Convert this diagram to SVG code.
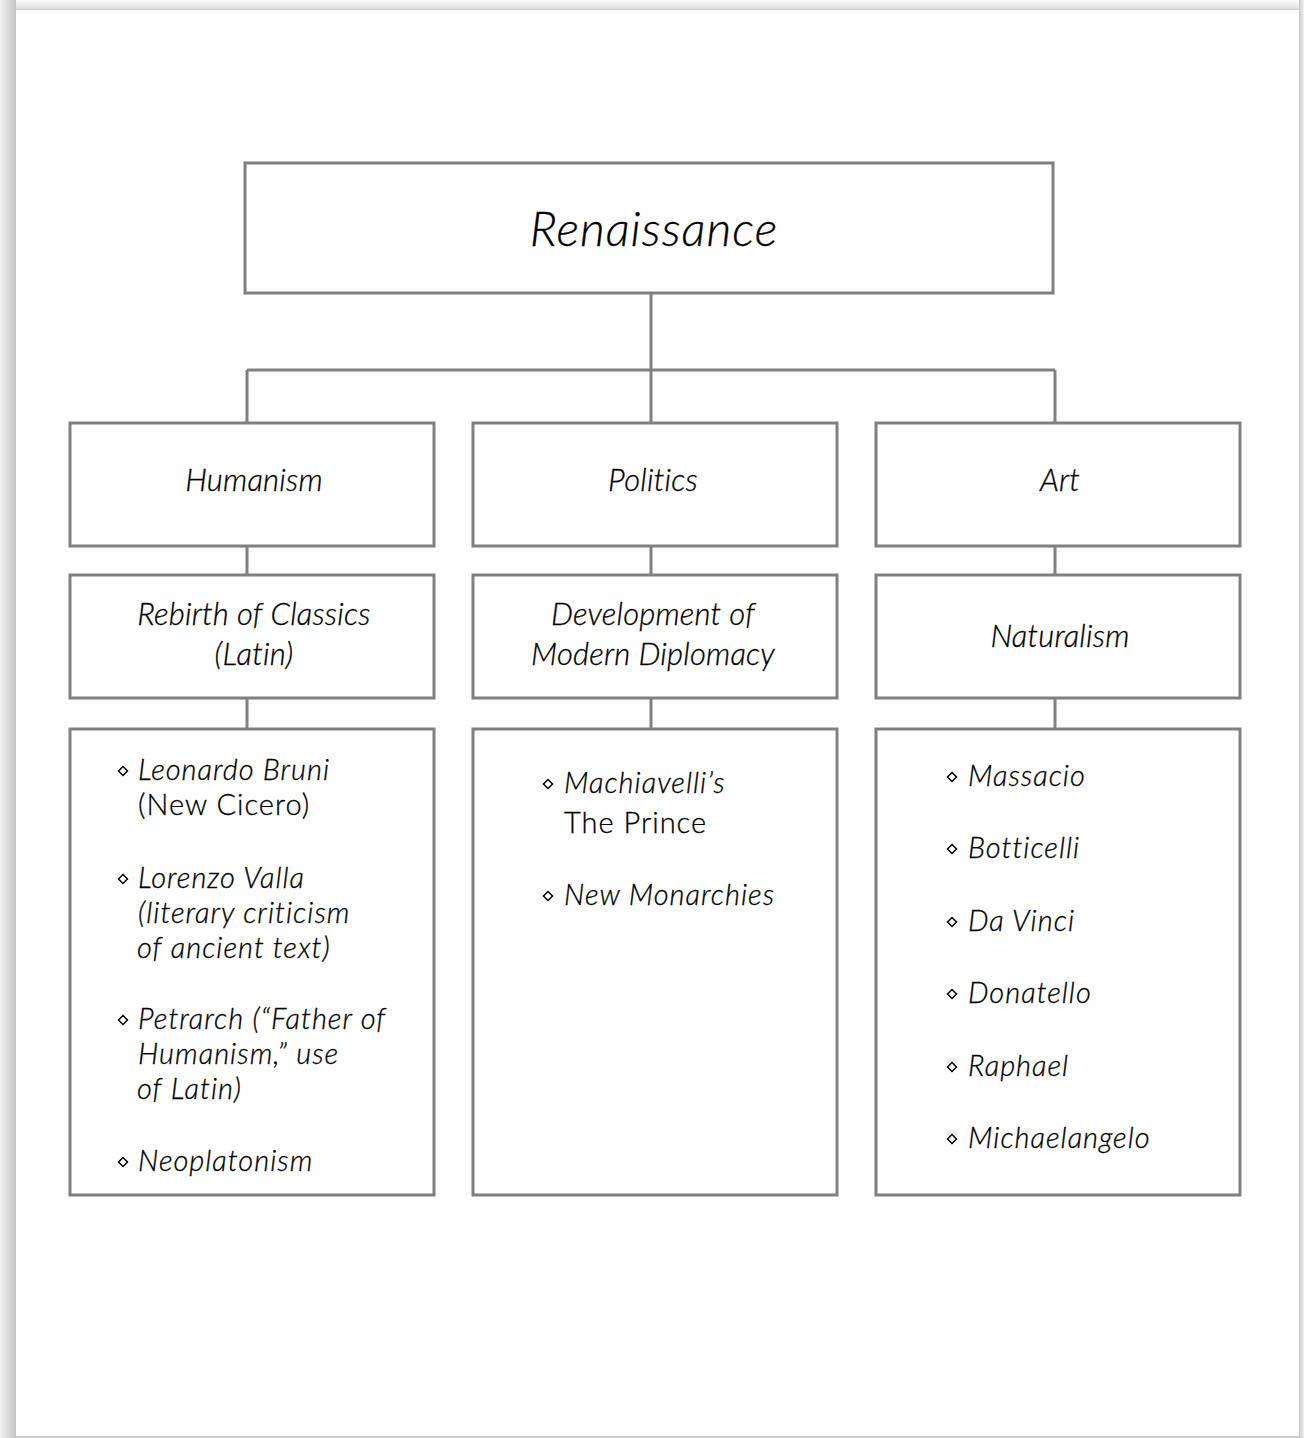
<svg xmlns="http://www.w3.org/2000/svg" width="1304" height="1438" viewBox="0 0 1304 1438">
<defs>
<linearGradient id="gl" x1="0" y1="0" x2="1" y2="0"><stop offset="0" stop-color="#f2f2f2"/><stop offset="0.6" stop-color="#d6d6d6"/><stop offset="1" stop-color="#c6c6c6"/></linearGradient>
<linearGradient id="gt" x1="0" y1="0" x2="0" y2="1"><stop offset="0" stop-color="#fbfbfb"/><stop offset="0.7" stop-color="#e6e6e6"/><stop offset="1" stop-color="#cfcfcf"/></linearGradient>
<linearGradient id="gr" x1="0" y1="0" x2="1" y2="0"><stop offset="0" stop-color="#c8c8c8"/><stop offset="1" stop-color="#f2f2f2"/></linearGradient>
<g id="dia"><path d="M-4.5,0 L0,-4.5 L4.5,0 L0,4.5 Z" fill="none" stroke="#000" stroke-width="1.5"/></g>
</defs>
<style>
.box{fill:#fff;stroke:#808080;stroke-width:3}
.con{stroke:#808080;stroke-width:3;fill:none}
text{font-family:Lato,"Open Sans",sans-serif;font-style:italic;font-weight:300;fill:#000;stroke:#000;stroke-width:0.3px}
.t1{font-size:48px;letter-spacing:1px}
.t2{font-size:31px;letter-spacing:0.2px}
.t3{font-size:29px;letter-spacing:1px}
.up{font-style:normal}
</style>
<rect x="0" y="0" width="1304" height="1438" fill="#fff"/>
<rect x="0" y="0" width="1304" height="10" fill="url(#gt)"/>
<rect x="0" y="0" width="16" height="1438" fill="url(#gl)"/>
<rect x="1299" y="0" width="5" height="1438" fill="url(#gr)"/>
<rect x="16" y="1436" width="1283" height="2" fill="#cccccc"/>

<g id="connectors">
<path class="con" d="M651,293 V422 M247,370 H1055 M247,370 V422 M1055,370 V422"/>
<path class="con" d="M247,546 V574 M651,546 V574 M1055,546 V574"/>
<path class="con" d="M247,698 V729 M651,698 V729 M1055,698 V729"/>
</g>

<g id="renaissance">
<rect class="box" x="245" y="163" width="808" height="130"/>
<text class="t1" x="654" y="246" text-anchor="middle">Renaissance</text>
</g>

<g id="humanism">
<rect class="box" x="70" y="423" width="364" height="123"/>
<text class="t2" x="254" y="491" text-anchor="middle">Humanism</text>
</g>
<g id="politics">
<rect class="box" x="473" y="423" width="364" height="123"/>
<text class="t2" x="653" y="491" text-anchor="middle">Politics</text>
</g>
<g id="art">
<rect class="box" x="876" y="423" width="364" height="123"/>
<text class="t2" x="1060" y="491" text-anchor="middle">Art</text>
</g>

<g id="rebirth">
<rect class="box" x="70" y="575" width="364" height="123"/>
<text class="t2" x="254" y="625" text-anchor="middle">Rebirth of Classics</text>
<text class="t2" x="254" y="665" text-anchor="middle">(Latin)</text>
</g>
<g id="diplomacy">
<rect class="box" x="473" y="575" width="364" height="123"/>
<text class="t2" x="653" y="625" text-anchor="middle">Development of</text>
<text class="t2" x="653" y="665" text-anchor="middle">Modern Diplomacy</text>
</g>
<g id="naturalism">
<rect class="box" x="876" y="575" width="364" height="123"/>
<text class="t2" x="1060" y="647" text-anchor="middle">Naturalism</text>
</g>

<g id="humanism-list">
<rect class="box" x="70" y="729" width="364" height="466"/>
<use href="#dia" x="123" y="771"/>
<text class="t3" x="138" y="780">Leonardo Bruni</text>
<text class="t3 up" x="138" y="815">(New Cicero)</text>
<use href="#dia" x="123" y="879"/>
<text class="t3" x="138" y="888">Lorenzo Valla</text>
<text class="t3" x="138" y="923">(literary criticism</text>
<text class="t3" x="137" y="958">of ancient text)</text>
<use href="#dia" x="123" y="1020"/>
<text class="t3" x="138" y="1029">Petrarch  (“Father of</text>
<text class="t3" x="138" y="1064">Humanism,” use</text>
<text class="t3" x="137" y="1099">of Latin)</text>
<use href="#dia" x="123" y="1162"/>
<text class="t3" x="138" y="1171">Neoplatonism</text>
</g>

<g id="politics-list">
<rect class="box" x="473" y="729" width="364" height="466"/>
<use href="#dia" x="548" y="784"/>
<text class="t3" x="564" y="793">Machiavelli’s</text>
<text class="t3 up" x="564" y="833">The Prince</text>
<use href="#dia" x="548" y="896"/>
<text class="t3" x="564" y="905">New Monarchies</text>
</g>

<g id="art-list">
<rect class="box" x="876" y="729" width="364" height="466"/>
<use href="#dia" x="952" y="777"/>
<text class="t3" x="968" y="786">Massacio</text>
<use href="#dia" x="952" y="849"/>
<text class="t3" x="968" y="858">Botticelli</text>
<use href="#dia" x="952" y="922"/>
<text class="t3" x="968" y="931">Da Vinci</text>
<use href="#dia" x="952" y="994"/>
<text class="t3" x="968" y="1003">Donatello</text>
<use href="#dia" x="952" y="1067"/>
<text class="t3" x="968" y="1076">Raphael</text>
<use href="#dia" x="952" y="1139"/>
<text class="t3" x="968" y="1148">Michaelangelo</text>
</g>
</svg>
